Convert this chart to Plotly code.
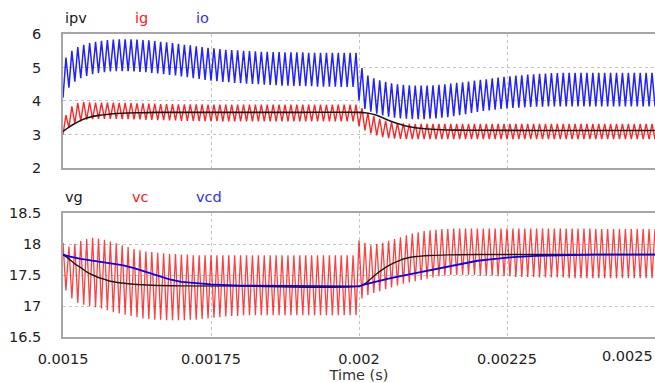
import plotly.graph_objects as go

# ---- switching waveform data (one switching period = 10 us) ----
T_START = 0.0015
T_SW = 1e-5

# io: trough at the start of each period, peak mid-period
io_lo = [4.10, 4.40, 4.58, 4.68, 4.75, 4.80, 4.84, 4.86, 4.88, 4.89,
         4.89, 4.89, 4.88, 4.87, 4.86, 4.84, 4.82, 4.80, 4.78, 4.76,
         4.73, 4.71, 4.68, 4.66, 4.63, 4.61, 4.59, 4.57, 4.56, 4.54,
         4.53, 4.52, 4.51, 4.50, 4.49, 4.48, 4.47, 4.46, 4.46, 4.45,
         4.45, 4.44, 4.44, 4.43, 4.43, 4.43, 4.43, 4.42, 4.42, 4.42,
         4.02, 3.76, 3.68, 3.62, 3.57, 3.53, 3.50, 3.48, 3.47, 3.46,
         3.46, 3.46, 3.47, 3.48, 3.50, 3.52, 3.55, 3.58, 3.61, 3.64,
         3.67, 3.70, 3.72, 3.74, 3.76, 3.78, 3.79, 3.80, 3.81, 3.82,
         3.83, 3.83, 3.84, 3.84, 3.84, 3.84, 3.84, 3.84, 3.84, 3.84,
         3.84, 3.84, 3.84, 3.84, 3.84, 3.84, 3.84, 3.84, 3.84, 3.84,
         3.84]
io_hi = [5.30, 5.50, 5.61, 5.68, 5.73, 5.77, 5.80, 5.82, 5.83, 5.84,
         5.84, 5.84, 5.83, 5.82, 5.81, 5.79, 5.77, 5.75, 5.73, 5.71,
         5.68, 5.66, 5.63, 5.61, 5.59, 5.57, 5.55, 5.53, 5.52, 5.51,
         5.50, 5.49, 5.48, 5.47, 5.47, 5.46, 5.46, 5.45, 5.45, 5.45,
         5.45, 5.44, 5.44, 5.44, 5.44, 5.44, 5.44, 5.44, 5.44, 5.44,
         4.98, 4.76, 4.68, 4.62, 4.57, 4.53, 4.50, 4.48, 4.47, 4.46,
         4.46, 4.46, 4.47, 4.48, 4.50, 4.52, 4.54, 4.56, 4.58, 4.61,
         4.63, 4.65, 4.68, 4.70, 4.72, 4.74, 4.76, 4.77, 4.79, 4.80,
         4.81, 4.82, 4.83, 4.83, 4.84, 4.84, 4.84, 4.84, 4.84, 4.84,
         4.84, 4.84, 4.84, 4.84, 4.84, 4.84, 4.84, 4.84, 4.84, 4.84]

# ig: trough at the start of each period, peak mid-period
ig_lo = [3.00, 3.20, 3.33, 3.40, 3.44, 3.46, 3.47, 3.47, 3.47, 3.47,
         3.46, 3.46, 3.45, 3.45, 3.44, 3.44, 3.43, 3.43, 3.42, 3.42,
         3.41, 3.41, 3.41, 3.40, 3.40, 3.40, 3.40, 3.39, 3.39, 3.39,
         3.39, 3.39, 3.39, 3.39, 3.39, 3.39, 3.39, 3.39, 3.39, 3.39,
         3.39, 3.39, 3.39, 3.39, 3.39, 3.39, 3.39, 3.39, 3.39, 3.39,
         3.25, 3.12, 3.03, 2.97, 2.92, 2.89, 2.88, 2.87, 2.86, 2.86,
         2.86, 2.86, 2.86, 2.86, 2.86, 2.86, 2.86, 2.86, 2.86, 2.86,
         2.86, 2.86, 2.86, 2.86, 2.86, 2.86, 2.86, 2.86, 2.86, 2.86,
         2.86, 2.86, 2.86, 2.86, 2.86, 2.86, 2.86, 2.86, 2.86, 2.86,
         2.86, 2.86, 2.86, 2.86, 2.86, 2.86, 2.86, 2.86, 2.86, 2.86,
         2.86]
ig_hi = [3.58, 3.84, 3.94, 3.97, 3.96, 3.95, 3.95, 3.95, 3.95, 3.94,
         3.94, 3.94, 3.93, 3.93, 3.92, 3.92, 3.91, 3.91, 3.91, 3.90,
         3.90, 3.90, 3.90, 3.90, 3.89, 3.89, 3.89, 3.89, 3.89, 3.89,
         3.89, 3.89, 3.89, 3.89, 3.89, 3.89, 3.89, 3.89, 3.89, 3.89,
         3.89, 3.89, 3.89, 3.89, 3.89, 3.89, 3.89, 3.89, 3.89, 3.89,
         3.79, 3.65, 3.55, 3.47, 3.41, 3.37, 3.35, 3.33, 3.32, 3.32,
         3.32, 3.32, 3.32, 3.32, 3.32, 3.32, 3.32, 3.32, 3.32, 3.32,
         3.32, 3.32, 3.32, 3.32, 3.32, 3.32, 3.32, 3.32, 3.32, 3.32,
         3.32, 3.32, 3.32, 3.32, 3.32, 3.32, 3.32, 3.32, 3.32, 3.32,
         3.32, 3.32, 3.32, 3.32, 3.32, 3.32, 3.32, 3.32, 3.32, 3.32]

# vc: peak at the start of each period, trough mid-period
vc_hi = [18.02, 17.96, 18.00, 18.05, 18.08, 18.10, 18.09, 18.07, 18.04, 18.01,
         17.98, 17.95, 17.92, 17.90, 17.88, 17.87, 17.86, 17.85, 17.84, 17.84,
         17.83, 17.83, 17.82, 17.82, 17.82, 17.82, 17.82, 17.82, 17.82, 17.82,
         17.82, 17.82, 17.82, 17.82, 17.82, 17.82, 17.82, 17.82, 17.82, 17.82,
         17.82, 17.82, 17.82, 17.82, 17.82, 17.82, 17.82, 17.82, 17.82, 17.82,
         18.06, 18.02, 17.98, 18.00, 18.02, 18.05, 18.08, 18.11, 18.14, 18.17,
         18.19, 18.21, 18.22, 18.23, 18.24, 18.24, 18.25, 18.25, 18.25, 18.25,
         18.25, 18.25, 18.25, 18.25, 18.25, 18.25, 18.25, 18.25, 18.25, 18.25,
         18.25, 18.25, 18.25, 18.25, 18.25, 18.25, 18.25, 18.25, 18.25, 18.25,
         18.24, 18.24, 18.24, 18.24, 18.24, 18.24, 18.24, 18.24, 18.24, 18.24,
         18.24]
vc_lo = [17.25, 17.12, 17.05, 17.02, 17.00, 16.98, 16.96, 16.93, 16.90, 16.88,
         16.86, 16.84, 16.82, 16.80, 16.79, 16.78, 16.78, 16.77, 16.77, 16.77,
         16.77, 16.78, 16.78, 16.79, 16.80, 16.81, 16.82, 16.83, 16.84, 16.84,
         16.85, 16.85, 16.85, 16.85, 16.85, 16.85, 16.85, 16.85, 16.85, 16.85,
         16.85, 16.85, 16.85, 16.85, 16.85, 16.85, 16.85, 16.85, 16.85, 16.85,
         17.12, 17.18, 17.21, 17.24, 17.27, 17.30, 17.33, 17.36, 17.38, 17.40,
         17.42, 17.44, 17.46, 17.48, 17.49, 17.50, 17.50, 17.50, 17.50, 17.50,
         17.49, 17.49, 17.49, 17.48, 17.48, 17.48, 17.47, 17.47, 17.47, 17.47,
         17.46, 17.46, 17.46, 17.46, 17.46, 17.45, 17.45, 17.45, 17.45, 17.45,
         17.45, 17.45, 17.45, 17.45, 17.45, 17.45, 17.45, 17.45, 17.45, 17.45]

# ---- averaged (smooth) signals ----
t_ipv = [0.0015, 0.00151, 0.00152, 0.00153, 0.00154, 0.00156, 0.00158, 0.0016,
         0.00163, 0.00166, 0.0017, 0.0018, 0.0019, 0.002, 0.00201, 0.002027,
         0.002055, 0.002083, 0.002111, 0.002139, 0.00217, 0.0022, 0.0023, 0.0025]
ipv = [3.09, 3.22, 3.33, 3.42, 3.49, 3.57, 3.61, 3.635,
       3.65, 3.66, 3.66, 3.66, 3.66, 3.66, 3.65, 3.59,
       3.39, 3.24, 3.17, 3.14, 3.13, 3.125, 3.12, 3.12]

t_vg = [0.0015, 0.00151, 0.00152, 0.00153, 0.00154, 0.00155, 0.00156, 0.00157,
        0.00158, 0.0016, 0.00162, 0.00165, 0.0017, 0.0018, 0.002, 0.00201,
        0.00202, 0.00203, 0.00204, 0.00205, 0.00206, 0.00207, 0.00208, 0.00209,
        0.0021, 0.00212, 0.00215, 0.0022, 0.0025]
vg = [17.83, 17.76, 17.68, 17.62, 17.55, 17.50, 17.46, 17.43,
      17.40, 17.37, 17.35, 17.335, 17.325, 17.32, 17.32, 17.36,
      17.44, 17.52, 17.59, 17.65, 17.70, 17.74, 17.77, 17.79,
      17.80, 17.815, 17.825, 17.83, 17.83]

t_vcd = [0.0015, 0.00151, 0.00153, 0.00155, 0.00158, 0.0016, 0.00162, 0.00164,
         0.00166, 0.00168, 0.0017, 0.00172, 0.00175, 0.0018, 0.0019, 0.002,
         0.00201, 0.00203, 0.00205, 0.00207, 0.00209, 0.00211, 0.00213, 0.00215,
         0.00217, 0.0022, 0.00223, 0.00226, 0.0023, 0.00235, 0.0024, 0.0025]
vcd = [17.83, 17.80, 17.76, 17.73, 17.69, 17.66, 17.61, 17.55,
       17.48, 17.43, 17.39, 17.37, 17.35, 17.33, 17.32, 17.315,
       17.35, 17.40, 17.44, 17.48, 17.52, 17.56, 17.60, 17.64,
       17.68, 17.73, 17.76, 17.79, 17.81, 17.825, 17.83, 17.83]

# the last time tick sits on the right edge, so its label is placed separately
x_ticks = [0.0015, 0.00175, 0.002, 0.00225, 0.0025]
x_tick_text = ["0.0015", "0.00175", "0.002", "0.00225", ""]
x_end_label = "0.0025"
y1_ticks = [2, 3, 4, 5, 6]
y2_ticks = [16.5, 17, 17.5, 18, 18.5]
y2_tick_text = ["16.5", "17", "17.5", "18", "18.5"]


def ripple(first, second):
    """Interleave per-period extremes into a triangular switching waveform."""
    xs, ys = [], []
    for k in range(len(second)):
        xs.append(T_START + k * T_SW)
        ys.append(first[k])
        xs.append(T_START + (k + 0.5) * T_SW)
        ys.append(second[k])
    if len(first) > len(second):
        xs.append(T_START + len(second) * T_SW)
        ys.append(first[len(second)])
    return xs, ys


FONT = "DejaVu Sans"

fig = go.Figure()

x_io, y_io = ripple(io_lo, io_hi)
x_ig, y_ig = ripple(ig_lo, ig_hi)
x_vc, y_vc = ripple(vc_hi, vc_lo)

fig.add_trace(go.Scatter(x=x_io, y=y_io, mode="lines", name="io",
                         line=dict(color="rgba(10,10,255,0.9)", width=1.5),
                         xaxis="x", yaxis="y"))
fig.add_trace(go.Scatter(x=x_ig, y=y_ig, mode="lines", name="ig",
                         line=dict(color="rgba(255,0,0,0.85)", width=1.4),
                         xaxis="x", yaxis="y"))
fig.add_trace(go.Scatter(x=t_ipv, y=ipv, mode="lines", name="ipv",
                         line=dict(color="#1a1a1a", width=1.6, shape="spline"),
                         xaxis="x", yaxis="y"))

fig.add_trace(go.Scatter(x=x_vc, y=y_vc, mode="lines", name="vc",
                         line=dict(color="rgba(255,0,0,0.75)", width=1.3),
                         xaxis="x2", yaxis="y2"))
fig.add_trace(go.Scatter(x=t_vg, y=vg, mode="lines", name="vg",
                         line=dict(color="#1a1a1a", width=1.4, shape="spline"),
                         xaxis="x2", yaxis="y2"))
fig.add_trace(go.Scatter(x=t_vcd, y=vcd, mode="lines", name="vcd",
                         line=dict(color="#0000ff", width=1.8),
                         xaxis="x2", yaxis="y2"))

GRID = dict(showgrid=True, gridcolor="#c4c4c4", gridwidth=1, griddash="dot",
            zeroline=False)
FRAME = dict(showline=True, linecolor="#a6a6a6", linewidth=1.5)
TICKFONT = dict(family=FONT, size=14.5, color="#222222")

fig.update_layout(
    width=655, height=383,
    margin=dict(l=63, r=0, t=34, b=46, autoexpand=False),
    paper_bgcolor="white", plot_bgcolor="white",
    showlegend=False,
    xaxis=dict(domain=[0, 1], anchor="y", range=[0.0015, 0.0025],
               tickvals=x_ticks, showticklabels=False, ticks="",
               mirror=True, automargin=False, **FRAME, **GRID),
    yaxis=dict(domain=[0.5578, 1], anchor="x", range=[2, 6],
               tickvals=y1_ticks, ticks="", tickfont=TICKFONT,
               ticklabelstandoff=17, automargin=False, **FRAME, **GRID),
    xaxis2=dict(domain=[0, 1], anchor="y2", range=[0.0015, 0.0025],
                matches="x", tickvals=x_ticks, ticktext=x_tick_text,
                ticks="", tickfont=TICKFONT, ticklabelstandoff=8,
                automargin=False, mirror=True,
                title=dict(text="Time (s)", standoff=1,
                           font=dict(family=FONT, size=14.5, color="#333333")),
                **FRAME, **GRID),
    yaxis2=dict(domain=[0, 0.4092], anchor="x2", range=[16.5, 18.5],
                tickvals=y2_ticks, ticktext=y2_tick_text, ticks="",
                tickfont=TICKFONT, ticklabelstandoff=17, automargin=False,
                **FRAME, **GRID),
)

labels = [("ipv", "#1a1a1a", 0.0, 1.0528), ("ig", "#ff2020", 0.1182, 1.0528),
          ("io", "#3030ff", 0.2213, 1.0528), ("vg", "#1a1a1a", 0.0, 0.462),
          ("vc", "#ff2020", 0.113, 0.462), ("vcd", "#3030ff", 0.2213, 0.462)]
for text, color, xp, yp in labels:
    fig.add_annotation(text=text, x=xp, y=yp, xref="paper", yref="paper",
                       xanchor="left", yanchor="middle", showarrow=False,
                       font=dict(family=FONT, size=14.5, color=color))

# right-edge time label, pulled inside the figure
fig.add_annotation(text=x_end_label, x=0.9985, y=-0.0627, xref="paper",
                   yref="paper", xanchor="right", yanchor="middle",
                   showarrow=False, borderpad=0, font=TICKFONT)

fig.write_html("out.html")
